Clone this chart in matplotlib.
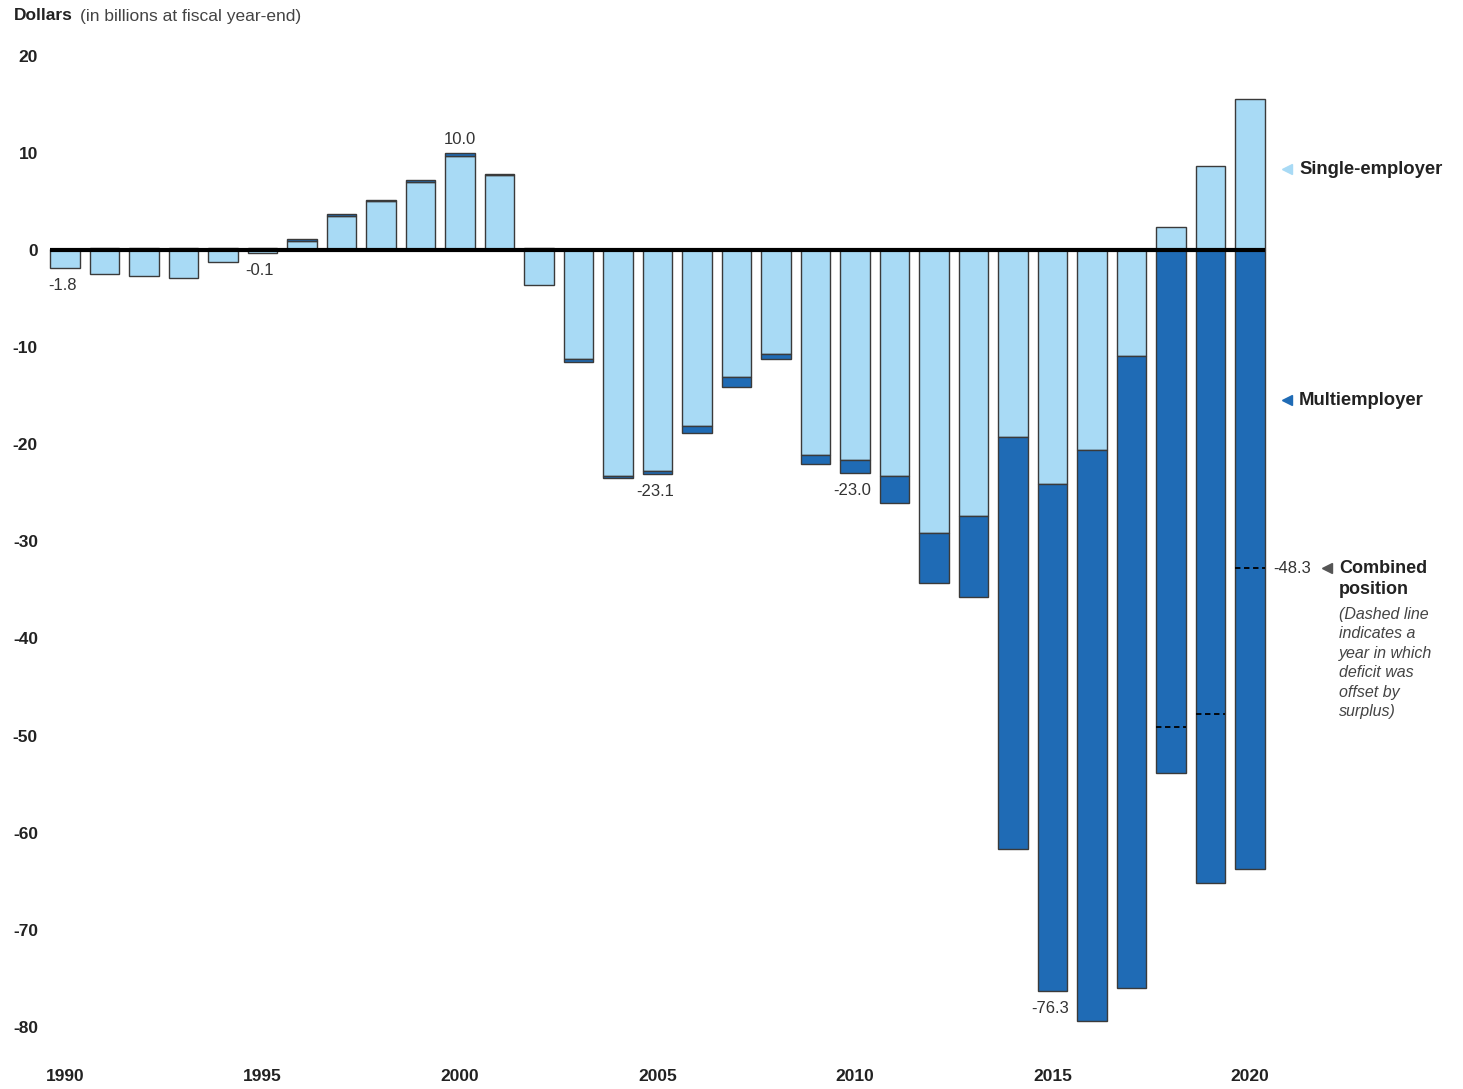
import numpy as np
import matplotlib
matplotlib.use("Agg")
import matplotlib.pyplot as plt

plt.rcParams['font.family'] = ['Liberation Sans', 'DejaVu Sans']

# PBGC net position, billions of dollars at fiscal year-end
years = np.arange(1990, 2021)
single = np.array([-1.9, -2.5, -2.7, -2.9, -1.2, -0.3, 0.9, 3.5, 5.0, 7.0,
                   9.7, 7.7, -3.6, -11.2, -23.3, -22.8, -18.1, -13.1, -10.7, -21.1,
                   -21.6, -23.3, -29.1, -27.4, -19.3, -24.1, -20.6, -10.9, 2.4, 8.7,
                   15.5])
multi = np.array([0.1, 0.2, 0.2, 0.2, 0.2, 0.2, 0.2, 0.2, 0.2, 0.2,
                  0.3, 0.1, 0.2, -0.3, -0.2, -0.3, -0.7, -1.0, -0.5, -0.9,
                  -1.4, -2.8, -5.2, -8.3, -42.4, -52.2, -58.8, -65.1, -53.9, -65.2,
                  -63.8])
combined = single + multi
labeled_years = [1990, 1995, 2000, 2005, 2010, 2015, 2020]

light = '#a8daf5'
dark = '#1f6bb5'
edge = '#3a3a3a'

fig = plt.figure(figsize=(14.63, 10.89), dpi=100)
# axes spans the full width so the side labels can live in data space
ax = fig.add_axes([40 / 1463, 1 - 1050 / 1089, 1 - 40 / 1463, (1050 - 40) / 1089])

px_per_year = 39.5
px_per_unit = 9.71
ax.set_xlim(1990 - 25 / px_per_year, 1990 + (1463 - 65) / px_per_year)
ax.set_ylim(-(1050 - 250) / px_per_unit, (250 - 40) / px_per_unit)

w = 0.74
# single-employer always starts at zero; multiemployer stacks on it when same sign
m_bottom = np.where(np.sign(single) == np.sign(multi), single, 0)
ax.bar(years, single, width=w, color=light, edgecolor=edge, linewidth=1, zorder=2)
ax.bar(years, multi, bottom=m_bottom, width=w, color=dark, edgecolor=edge,
       linewidth=1, zorder=2)

# zero line
ax.plot([years[0] - w / 2, years[-1] + w / 2], [0, 0], color='black', lw=3,
        zorder=3, solid_capstyle='butt')

# dashed lines: deficit offset by surplus
offset = (single > 0) & (multi < 0)
for yr, s, c in zip(years[offset], single[offset], combined[offset]):
    ax.plot([yr - w / 2, yr + w / 2], [s + c, s + c], color='black', lw=1.3,
            ls=(0, (3, 2)), zorder=4)

# value labels
for yr in labeled_years:
    i = yr - 1990
    c = combined[i]
    if yr == 2020:
        continue
    low = min(single[i], m_bottom[i] + multi[i], 0)
    if c >= 0:
        ax.text(yr, max(single[i] + max(multi[i], 0), 0) + 0.6, f'{c:.1f}',
                ha='center', va='bottom', fontsize=12, color='#333333')
    else:
        ax.text(yr - 0.07, low - 1.0, f'{c:.1f}', ha='center', va='top',
                fontsize=12, color='#333333')

# 2020 combined label and side legend
y48 = single[-1] + combined[-1]
xr = lambda px: 1990 + (px - 65) / px_per_year
yr_ = lambda px: -(px - 250) / px_per_unit
ax.text(xr(1273), y48, f'{combined[-1]:.1f}', ha='left', va='center',
        fontsize=12, color='#333333')
ax.plot(xr(1327), y48, marker='<', color='#555555', ms=7, clip_on=False)
ax.text(xr(1339), y48 + 0.9, 'Combined\nposition', ha='left', va='top',
        fontsize=13, fontweight='bold', color='#222222', linespacing=1.3)
ax.text(xr(1339), yr_(607), '(Dashed line\nindicates a\nyear in which\ndeficit was\noffset by\nsurplus)',
        ha='left', va='top', fontsize=11.5, style='italic', color='#444444',
        linespacing=1.37)

ax.plot(xr(1287), yr_(169), marker='<', color=light, ms=7)
ax.text(xr(1299), yr_(169), 'Single-employer', ha='left', va='center',
        fontsize=13.3, fontweight='bold', color='#222222')
ax.plot(xr(1287), yr_(400), marker='<', color=dark, ms=7)
ax.text(xr(1299), yr_(400), 'Multiemployer', ha='left', va='center',
        fontsize=13.3, fontweight='bold', color='#222222')

# axes styling
for sp in ax.spines.values():
    sp.set_visible(False)
ax.set_yticks(np.arange(-80, 21, 10))
ax.set_yticklabels([str(v) for v in range(-80, 21, 10)], fontweight='bold',
                   fontsize=12.5, color='#222222')
ax.set_xticks(labeled_years)
ax.set_xticklabels([str(v) for v in labeled_years], fontweight='bold',
                   fontsize=12.5, color='#222222')
ax.tick_params(axis='y', length=0, pad=1.5)
ax.tick_params(axis='x', length=0, pad=14)

fig.text(14 / 1463, 1 - 16 / 1089, 'Dollars', ha='left', va='center',
         fontsize=12.5, fontweight='bold', color='#222222')
fig.text(80 / 1463, 1 - 16 / 1089, '(in billions at fiscal year-end)', ha='left',
         va='center', fontsize=12.5, color='#444444')

fig.savefig('out.png', dpi=100)
